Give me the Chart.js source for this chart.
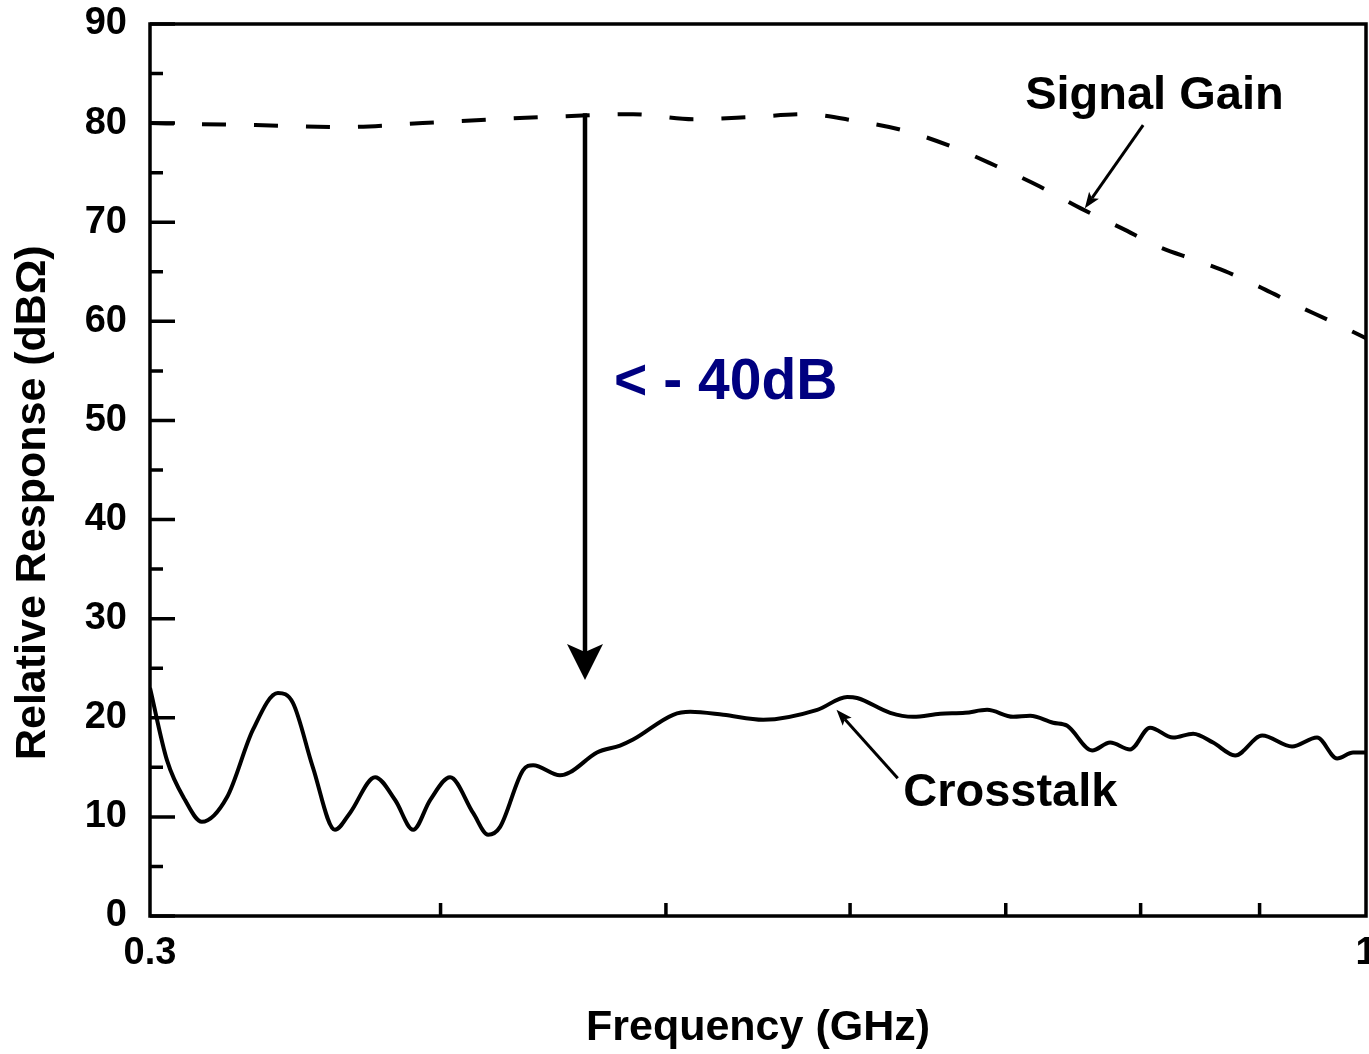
<!DOCTYPE html>
<html>
<head>
<meta charset="utf-8">
<script src="https://cdn.jsdelivr.net/npm/chart.js@4.4.1/dist/chart.umd.min.js"></script>
<style>
  html, body { margin:0; padding:0; background:#fff; }
  canvas { display:block; }
</style>
</head>
<body>
<canvas id="chart" width="1369" height="1054"></canvas>
<script>
// ── Data ─────────────────────────────────────────────────────
const gainFreq = [0.300, 0.315, 0.333, 0.363, 0.393, 0.423, 0.453, 0.484, 0.514, 0.543, 0.574, 0.604, 0.634,
                  0.664, 0.693, 0.724, 0.754, 0.785, 0.815, 0.844, 0.873, 0.905, 0.934, 0.964, 1.000];
const gainDb   = [80.0, 79.9, 79.8, 79.6, 80.0, 80.4, 80.7, 80.9, 80.4, 80.6, 80.9, 80.2, 79.2,
                  77.6, 75.7, 73.6, 71.4, 69.4, 67.5, 66.2, 64.9, 63.2, 61.6, 60.1, 58.3];

const xtalkFreq = [0.300, 0.3051, 0.3106, 0.3158, 0.3238, 0.3322, 0.3405, 0.3456, 0.3525, 0.3603, 0.3657, 0.3749,
                   0.3824, 0.3893, 0.3959, 0.4038, 0.4131, 0.4193, 0.4243, 0.4340, 0.4384, 0.4502, 0.4547, 0.4670,
                   0.4778, 0.4840, 0.5036, 0.5122, 0.5292, 0.5506, 0.5808, 0.5983, 0.6042, 0.6243, 0.6387, 0.6560,
                   0.6724, 0.6872, 0.7051, 0.7171, 0.7336, 0.7439, 0.7625, 0.7762, 0.7917, 0.8075, 0.8261, 0.8427,
                   0.8595, 0.8785, 0.9023, 0.9294, 0.9527, 0.9718, 0.9873, 1.000];
const xtalkDb   = [23.0, 15.7, 11.7, 9.5, 12.0, 18.8, 22.5, 21.5, 15.0, 8.7, 10.4, 14.0,
                   11.7, 8.7, 11.7, 14.0, 10.4, 8.2, 9.0, 14.7, 15.2, 14.2, 14.5, 16.5,
                   17.2, 17.8, 20.3, 20.6, 20.3, 19.8, 20.8, 22.1, 22.0, 20.5, 20.1, 20.4,
                   20.5, 20.8, 20.1, 20.2, 19.5, 19.2, 16.7, 17.5, 16.8, 19.0, 18.0, 18.4,
                   17.5, 16.2, 18.2, 17.1, 18.0, 15.9, 16.5, 16.5];

const xTickValues  = [0.4, 0.5, 0.6, 0.7, 0.8, 0.9];
const xLabelValues = [0.3, 1];
const yMajorTicks  = [0, 10, 20, 30, 40, 50, 60, 70, 80, 90];
const yMinorTicks  = [5, 15, 25, 35, 45, 55, 65, 75, 85];

// ── Annotations (data units) ─────────────────────────────────
const textNotes = [
  { text:'Signal Gain', x:0.811,  y:82.7, align:'center', size:47, color:'#000' },
  { text:'Crosstalk',   x:0.6324, y:12.4, align:'left',   size:47, color:'#000' },
  { text:'< - 40dB',    x:0.475,  y:53.8, align:'left',   size:57, color:'#000080' },
];
const arrowNotes = [
  { from:[0.4615, 81.0], to:[0.4615, 23.8], width:4.5, head:36, half:18 },
  { from:[0.802, 79.8],  to:[0.757, 71.4],  width:3,   head:16, half:6 },
  { from:[0.629, 13.9],  to:[0.592, 20.8],  width:3,   head:16, half:6 },
];
const FONT = "'Liberation Sans', Arial, Helvetica, sans-serif";

const toPts = (fs, vs) => fs.map((f, i) => ({ x:f, y:vs[i] }));

// ── Frame + inward ticks ─────────────────────────────────────
const framePlugin = {
  id:'frame',
  afterDatasetsDraw(chart) {
    const { ctx, chartArea:a, scales:{ x, y } } = chart;
    ctx.save();
    ctx.strokeStyle = '#000';
    ctx.lineWidth = 3.5;
    ctx.strokeRect(a.left, a.top, a.right - a.left, a.bottom - a.top);
    ctx.beginPath();
    yMajorTicks.forEach(v => { const p = y.getPixelForValue(v); ctx.moveTo(a.left, p); ctx.lineTo(a.left + 25, p); });
    yMinorTicks.forEach(v => { const p = y.getPixelForValue(v); ctx.moveTo(a.left, p); ctx.lineTo(a.left + 13, p); });
    xTickValues.forEach(v => { const p = x.getPixelForValue(v); ctx.moveTo(p, a.bottom); ctx.lineTo(p, a.bottom - 13); });
    ctx.stroke();

    // y title, drawn here so it can sit a bit below centre like the original
    ctx.translate(33, y.getPixelForValue(41.7));
    ctx.rotate(-Math.PI / 2);
    ctx.fillStyle = '#000';
    ctx.font = `bold 43px ${FONT}`;
    ctx.textAlign = 'center';
    ctx.textBaseline = 'middle';
    ctx.fillText('Relative Response (dBΩ)', 0, 0);
    ctx.restore();
  }
};

// ── Arrows and labels ────────────────────────────────────────
const notesPlugin = {
  id:'notes',
  afterDraw(chart) {
    const { ctx, scales:{ x, y } } = chart;
    ctx.save();
    arrowNotes.forEach(a => {
      const x1 = x.getPixelForValue(a.from[0]), y1 = y.getPixelForValue(a.from[1]);
      const x2 = x.getPixelForValue(a.to[0]),   y2 = y.getPixelForValue(a.to[1]);
      const ang = Math.atan2(y2 - y1, x2 - x1);
      const ux = Math.cos(ang), uy = Math.sin(ang);
      const notch = a.head * 0.78;
      ctx.strokeStyle = '#000';
      ctx.lineWidth = a.width;
      ctx.beginPath();
      ctx.moveTo(x1, y1);
      ctx.lineTo(x2 - ux * notch, y2 - uy * notch);
      ctx.stroke();
      const bx = x2 - ux * a.head, by = y2 - uy * a.head;
      ctx.fillStyle = '#000';
      ctx.beginPath();
      ctx.moveTo(x2, y2);
      ctx.lineTo(bx - uy * a.half, by + ux * a.half);
      ctx.lineTo(x2 - ux * notch, y2 - uy * notch);
      ctx.lineTo(bx + uy * a.half, by - ux * a.half);
      ctx.closePath();
      ctx.fill();
    });
    textNotes.forEach(t => {
      ctx.font = `bold ${t.size}px ${FONT}`;
      ctx.fillStyle = t.color;
      ctx.textAlign = t.align;
      ctx.textBaseline = 'middle';
      ctx.fillText(t.text, x.getPixelForValue(t.x), y.getPixelForValue(t.y));
    });
    ctx.restore();
  }
};

Chart.defaults.font.family = FONT;
Chart.defaults.color = '#000';

new Chart(document.getElementById('chart').getContext('2d'), {
  type:'line',
  data:{
    datasets:[
      { label:'Signal Gain', data:toPts(gainFreq, gainDb),
        borderColor:'#000', borderWidth:4, borderDash:[24, 28], borderCapStyle:'butt',
        pointRadius:0, cubicInterpolationMode:'monotone', fill:false },
      { label:'Crosstalk', data:toPts(xtalkFreq, xtalkDb),
        borderColor:'#000', borderWidth:4, borderJoinStyle:'round',
        pointRadius:0, cubicInterpolationMode:'monotone', fill:false }
    ]
  },
  options:{
    responsive:false, devicePixelRatio:1, animation:false,
    layout:{ padding:{ top:24, right:3, left:0, bottom:0 } },
    plugins:{ legend:{ display:false }, tooltip:{ enabled:false } },
    scales:{
      x:{
        type:'logarithmic', min:0.3, max:1,
        grid:{ display:false }, border:{ display:false },
        afterBuildTicks: s => { s.ticks = xLabelValues.map(v => ({ value:v })); },
        afterFit: s => { s.height = 138; s.paddingLeft = 0; s.paddingRight = 0; },
        ticks:{ autoSkip:false, maxRotation:0, padding:7, color:'#000',
                font:{ size:38, weight:'bold' }, callback: v => String(v) },
        title:{ display:true, text:'Frequency (GHz)', color:'#000',
                font:{ size:43, weight:'bold' }, padding:{ top:0, bottom:0 } }
      },
      y:{
        min:0, max:90,
        grid:{ display:false }, border:{ display:false },
        afterBuildTicks: s => { s.ticks = yMajorTicks.map(v => ({ value:v })); },
        afterFit: s => { s.width = 150; s.paddingTop = 0; s.paddingBottom = 0; },
        ticks:{ padding:15, color:'#000', font:{ size:38, weight:'bold' } }
      }
    }
  },
  plugins:[framePlugin, notesPlugin]
});
</script>
</body>
</html>
